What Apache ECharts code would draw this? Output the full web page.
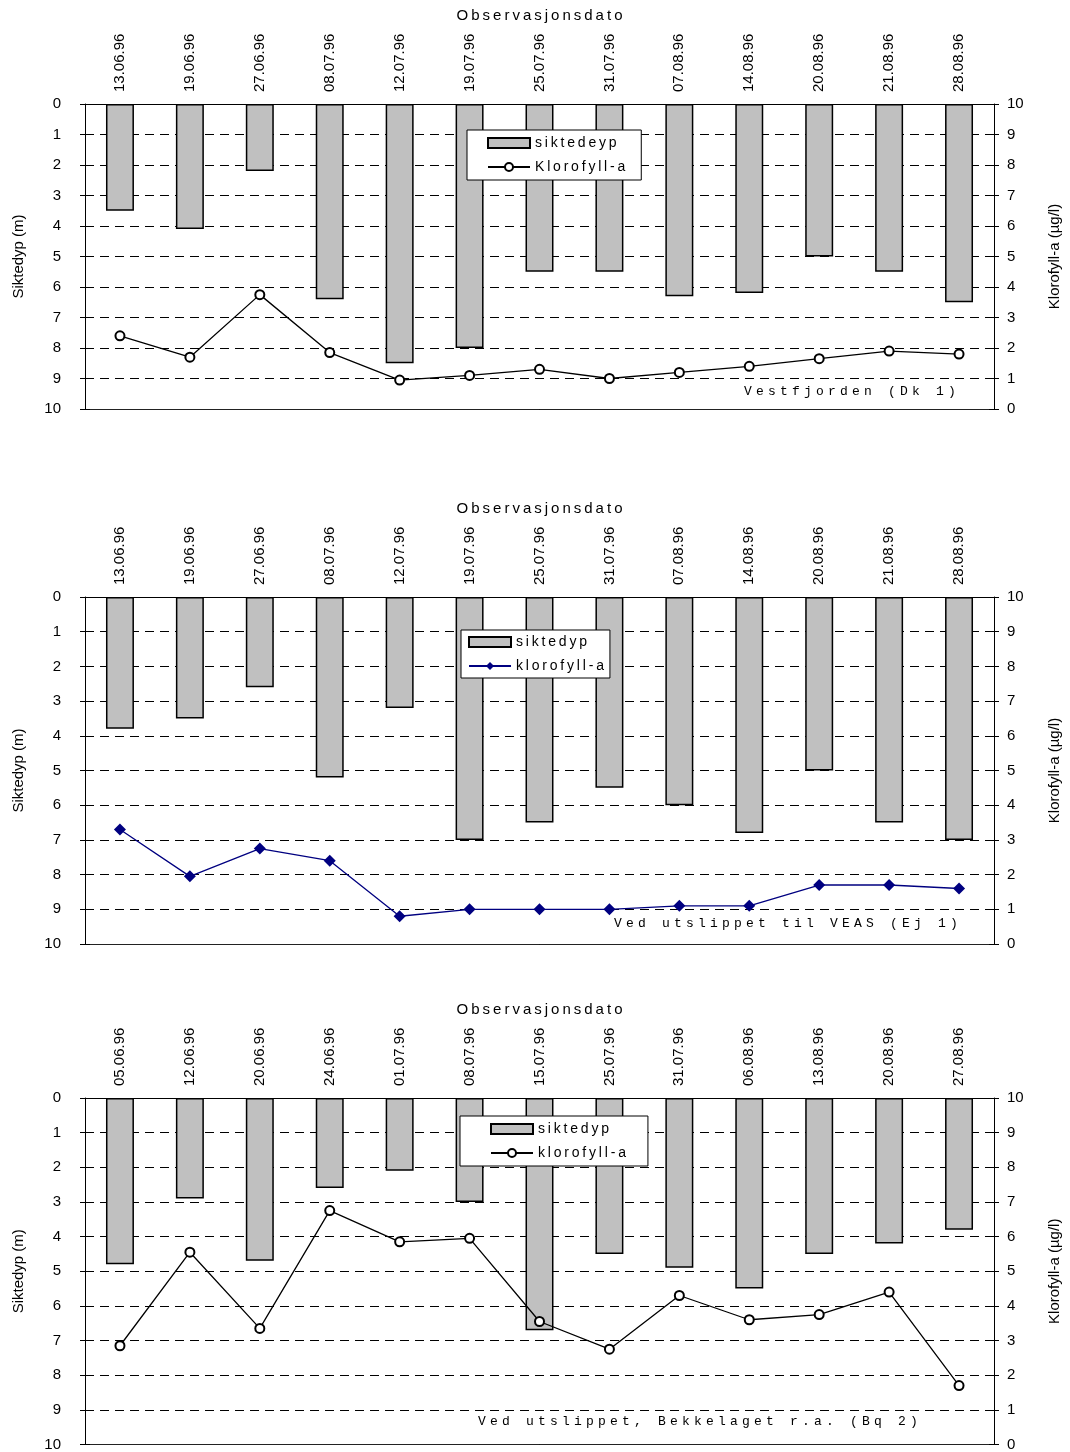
<!DOCTYPE html>
<html>
<head>
<meta charset="utf-8">
<script src="https://cdn.jsdelivr.net/npm/echarts@6/dist/echarts.min.js"></script>
<style>
  html, body { margin: 0; padding: 0; background: #fff; }
  .panel { position: absolute; left: 0; width: 1070px; }
</style>
</head>
<body>
<div id="p1" class="panel" style="top:0;height:430px"></div>
<div id="p2" class="panel" style="top:490px;height:470px"></div>
<div id="p3" class="panel" style="top:990px;height:462px"></div>
<script>
// Vestfjorden (Dk 1)
const datesVest = ['13.06.96', '19.06.96', '27.06.96', '08.07.96', '12.07.96', '19.07.96', '25.07.96',
  '31.07.96', '07.08.96', '14.08.96', '20.08.96', '21.08.96', '28.08.96']
const siktVest = [3.5, 4.1, 2.2, 6.4, 8.5, 8.0, 5.5, 5.5, 6.3, 6.2, 5.0, 5.5, 6.5]
const kloroVest = [2.4, 1.7, 3.75, 1.85, 0.95, 1.1, 1.3, 1.0, 1.2, 1.4, 1.65, 1.9, 1.8]

// Ved utslippet til VEAS (Ej 1)
const datesVeas = ['13.06.96', '19.06.96', '27.06.96', '08.07.96', '12.07.96', '19.07.96', '25.07.96',
  '31.07.96', '07.08.96', '14.08.96', '20.08.96', '21.08.96', '28.08.96']
const siktVeas = [3.8, 3.5, 2.6, 5.2, 3.2, 7.0, 6.5, 5.5, 6.0, 6.8, 5.0, 6.5, 7.0]
const kloroVeas = [3.3, 1.95, 2.75, 2.4, 0.8, 1.0, 1.0, 1.0, 1.1, 1.1, 1.7, 1.7, 1.6]

// Ved utslippet, Bekkelaget r.a. (Bq 2)
const datesBekk = ['05.06.96', '12.06.96', '20.06.96', '24.06.96', '01.07.96', '08.07.96', '15.07.96',
  '25.07.96', '31.07.96', '06.08.96', '13.08.96', '20.08.96', '27.08.96']
const siktBekk = [4.8, 2.9, 4.7, 2.6, 2.1, 3.0, 6.7, 4.5, 4.9, 5.5, 4.5, 4.2, 3.8]
const kloroBekk = [2.85, 5.55, 3.35, 6.75, 5.85, 5.95, 3.55, 2.75, 4.3, 3.6, 3.75, 4.4, 1.7]

const FONT = '"Liberation Sans", Arial, sans-serif'
const MONO = '"Liberation Mono", "Courier New", monospace'

// wide letter spacing like the original
const spaced = (s) => s.split('').join('\u2009')
const mono = (s) => s.split('').map((c) => '{m|' + (c === ' ' ? '\u00a0' : c) + '}').join('')

const black = { color: '#000' }

function buildPanel(id, cfg) {
  const chart = echarts.init(document.getElementById(id))
  chart.setOption({
    animation: false,
    textStyle: { fontFamily: FONT, color: '#000' },
    grid: { left: 85, right: 73, top: cfg.gridTop, height: cfg.gridHeight },
    title: {
      text: mono(cfg.note.text),
      right: cfg.note.right,
      top: cfg.note.top,
      padding: 0,
      textStyle: {
        fontFamily: MONO,
        fontSize: 13,
        fontWeight: 'normal',
        rich: {
          m: { width: 12, lineHeight: 16, align: 'center', fontFamily: MONO, fontSize: 13, fontWeight: 'normal', color: '#000' },
        },
      },
    },
    legend: {
      orient: 'vertical',
      left: cfg.legend.left,
      top: cfg.legend.top,
      padding: cfg.legend.padding,
      itemGap: 10,
      itemWidth: 42,
      itemHeight: 10,
      backgroundColor: '#fff',
      borderColor: '#000',
      borderWidth: 1,
      textStyle: { fontFamily: FONT, fontSize: 14, color: '#000' },
      formatter: spaced,
      data: [{ name: cfg.barName, icon: 'rect' }, cfg.lineName],
    },
    xAxis: [
      {
        type: 'category',
        position: 'top',
        data: cfg.dates,
        name: spaced('Observasjonsdato'),
        nameLocation: 'middle',
        nameGap: 81,
        nameTextStyle: { fontSize: 15, color: '#000' },
        axisLine: { onZero: false, lineStyle: black },
        axisTick: { length: 5, lineStyle: black },
        axisLabel: { rotate: -90, fontSize: 15, margin: 12, color: '#000' },
      },
      {
        type: 'category',
        position: 'top',
        data: cfg.dates,
        axisLine: { show: false, onZero: false },
        axisTick: { inside: true, length: 5, lineStyle: black },
        axisLabel: { show: false },
      },
      {
        type: 'category',
        position: 'bottom',
        data: cfg.dates,
        axisLine: { onZero: false, lineStyle: { color: '#222' } },
        axisTick: { show: false },
        axisLabel: { show: false },
      },
    ],
    yAxis: [
      {
        type: 'value',
        position: 'left',
        inverse: true,
        min: 0,
        max: 10,
        interval: 1,
        name: 'Siktedyp (m)',
        nameLocation: 'middle',
        nameRotate: 90,
        nameGap: 59,
        nameTextStyle: { fontSize: 15, color: '#000' },
        axisLine: { show: true, onZero: false, lineStyle: black },
        axisTick: { show: true, length: 5, lineStyle: black },
        axisLabel: { fontSize: 15, margin: 24, color: '#000' },
        splitLine: { show: true, lineStyle: { type: [9, 6], color: '#000' } },
      },
      {
        type: 'value',
        position: 'right',
        min: 0,
        max: 10,
        interval: 1,
        name: 'Klorofyll-a (µg/l)',
        nameLocation: 'middle',
        nameRotate: 90,
        nameGap: 53,
        nameTextStyle: { fontSize: 15, color: '#000' },
        axisLine: { show: true, onZero: false, lineStyle: black },
        axisTick: { show: true, length: 5, lineStyle: black },
        axisLabel: { fontSize: 15, margin: 13, color: '#000' },
        splitLine: { show: false },
      },
      {
        type: 'value',
        position: 'left',
        inverse: true,
        min: 0,
        max: 10,
        interval: 1,
        axisLine: { show: false },
        axisTick: { show: true, inside: true, length: 5, lineStyle: black },
        axisLabel: { show: false },
        splitLine: { show: false },
      },
      {
        type: 'value',
        position: 'right',
        min: 0,
        max: 10,
        interval: 1,
        axisLine: { show: false },
        axisTick: { show: true, inside: true, length: 5, lineStyle: black },
        axisLabel: { show: false },
        splitLine: { show: false },
      },
    ],
    series: [
      {
        type: 'bar',
        name: cfg.barName,
        data: cfg.sikt,
        xAxisIndex: 0,
        yAxisIndex: 0,
        barWidth: '40%',
        itemStyle: { color: '#c0c0c0', borderColor: '#000', borderWidth: 1.5 },
      },
      {
        type: 'line',
        name: cfg.lineName,
        data: cfg.kloro,
        xAxisIndex: 0,
        yAxisIndex: 1,
        symbol: cfg.symbol,
        symbolSize: cfg.symbolSize,
        lineStyle: { color: cfg.lineColor, width: 1.3 },
        itemStyle: { color: cfg.lineColor, borderWidth: 1.3 },
      },
    ],
  })
  return chart
}

buildPanel('p1', {
  dates: datesVest, sikt: siktVest, kloro: kloroVest,
  barName: 'siktedeyp', lineName: 'Klorofyll-a',
  symbol: 'emptyCircle', symbolSize: 9, lineColor: '#000',
  gridTop: 104, gridHeight: 305,
  legend: { left: 467, top: 130, padding: [6, 16, 6, 20] },
  note: { text: 'Vestfjorden (Dk 1)', right: 112, top: 384 },
})

buildPanel('p2', {
  dates: datesVeas, sikt: siktVeas, kloro: kloroVeas,
  barName: 'siktedyp', lineName: 'klorofyll-a',
  symbol: 'diamond', symbolSize: 12, lineColor: '#000080',
  gridTop: 107, gridHeight: 347,
  legend: { left: 461, top: 140, padding: [5, 6, 5, 7] },
  note: { text: 'Ved utslippet til VEAS (Ej 1)', right: 110, top: 426 },
})

buildPanel('p3', {
  dates: datesBekk, sikt: siktBekk, kloro: kloroBekk,
  barName: 'siktedyp', lineName: 'klorofyll-a',
  symbol: 'emptyCircle', symbolSize: 9, lineColor: '#000',
  gridTop: 108, gridHeight: 347,
  legend: { left: 460, top: 126, padding: [6, 22, 6, 30] },
  note: { text: 'Ved utslippet, Bekkelaget r.a. (Bq 2)', right: 150, top: 424 },
})
</script>
</body>
</html>
